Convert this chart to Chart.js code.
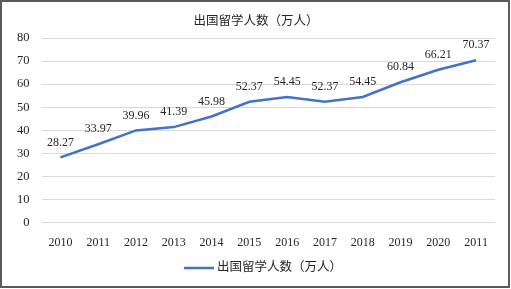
<!DOCTYPE html>
<html>
<head>
<meta charset="utf-8">
<script src="https://cdn.jsdelivr.net/npm/chart.js@4.4.1/dist/chart.umd.min.js"></script>
<style>
  html, body { margin: 0; padding: 0; background: #fff; }
  .chart {
    position: absolute; left: 0; top: 0;
    width: 510px; height: 288px;
    box-sizing: border-box;
    border: 2px solid #5a5a5a;
  }
  canvas { display: block; }
</style>
</head>
<body>
<div class="chart">
  <canvas id="c" width="506" height="284"></canvas>
</div>
<script>
const years = ['2010', '2011', '2012', '2013', '2014', '2015', '2016', '2017', '2018', '2019', '2020', '2011'];
const students = [28.27, 33.97, 39.96, 41.39, 45.98, 52.37, 54.45, 52.37, 54.45, 60.84, 66.21, 70.37];
const seriesName = '出国留学人数（万人）';

const fontFamily = '"Liberation Serif", "Noto Sans CJK SC", serif';
const textColor = '#262626';
const lineColor = '#4472c4';

// value labels above the points, plus title and legend placed like the original
const decorations = {
  id: 'decorations',
  afterDatasetsDraw(chart) {
    const ctx = chart.ctx;
    const meta = chart.getDatasetMeta(0);
    ctx.save();
    ctx.font = '12px ' + fontFamily;
    ctx.fillStyle = textColor;
    ctx.textAlign = 'center';
    ctx.textBaseline = 'middle';
    meta.data.forEach((pt, i) => {
      ctx.fillText(students[i].toFixed(2), pt.x, pt.y - 15);
    });
    ctx.restore();
  },
  afterDraw(chart) {
    const ctx = chart.ctx;
    const label = chart.data.datasets[0].label;
    ctx.save();
    ctx.font = '12.5px ' + fontFamily;
    ctx.fillStyle = textColor;
    ctx.textBaseline = 'middle';

    // title
    ctx.textAlign = 'center';
    ctx.fillText(label, chart.width / 2 + 1, 19.5);

    // legend
    const textW = ctx.measureText(label).width;
    const lineW = 30, gap = 3;
    const x0 = chart.width / 2 + 8 - (lineW + gap + textW) / 2;
    const y = 266;
    ctx.strokeStyle = lineColor;
    ctx.lineWidth = 2.5;
    ctx.beginPath();
    ctx.moveTo(x0, y);
    ctx.lineTo(x0 + lineW, y);
    ctx.stroke();
    ctx.textAlign = 'left';
    ctx.fillText(label, x0 + lineW + gap, y);
    ctx.restore();
  }
};

const ctx = document.getElementById('c').getContext('2d');
new Chart(ctx, {
  type: 'line',
  data: {
    labels: years,
    datasets: [{
      label: seriesName,
      data: students,
      borderColor: lineColor,
      backgroundColor: lineColor,
      borderWidth: 2.5,
      pointRadius: 0,
      tension: 0,
    }],
  },
  options: {
    responsive: false,
    animation: false,
    layout: { padding: { left: 3, right: 13, top: 36, bottom: 23 } },
    plugins: {
      title: { display: false },
      legend: { display: false },
      tooltip: { enabled: false },
    },
    scales: {
      x: {
        offset: true,
        grid: { display: false, drawTicks: false },
        border: { display: false },
        ticks: {
          color: textColor,
          font: { family: fontFamily, size: 12 },
          padding: 13,
          maxRotation: 0,
          autoSkip: false,
        },
      },
      y: {
        min: 0,
        max: 80,
        grid: { color: '#d9d9d9', drawTicks: false },
        border: { display: false },
        ticks: {
          stepSize: 10,
          color: textColor,
          font: { family: fontFamily, size: 12.5 },
          padding: 12,
        },
      },
    },
  },
  plugins: [decorations],
});
</script>
</body>
</html>
